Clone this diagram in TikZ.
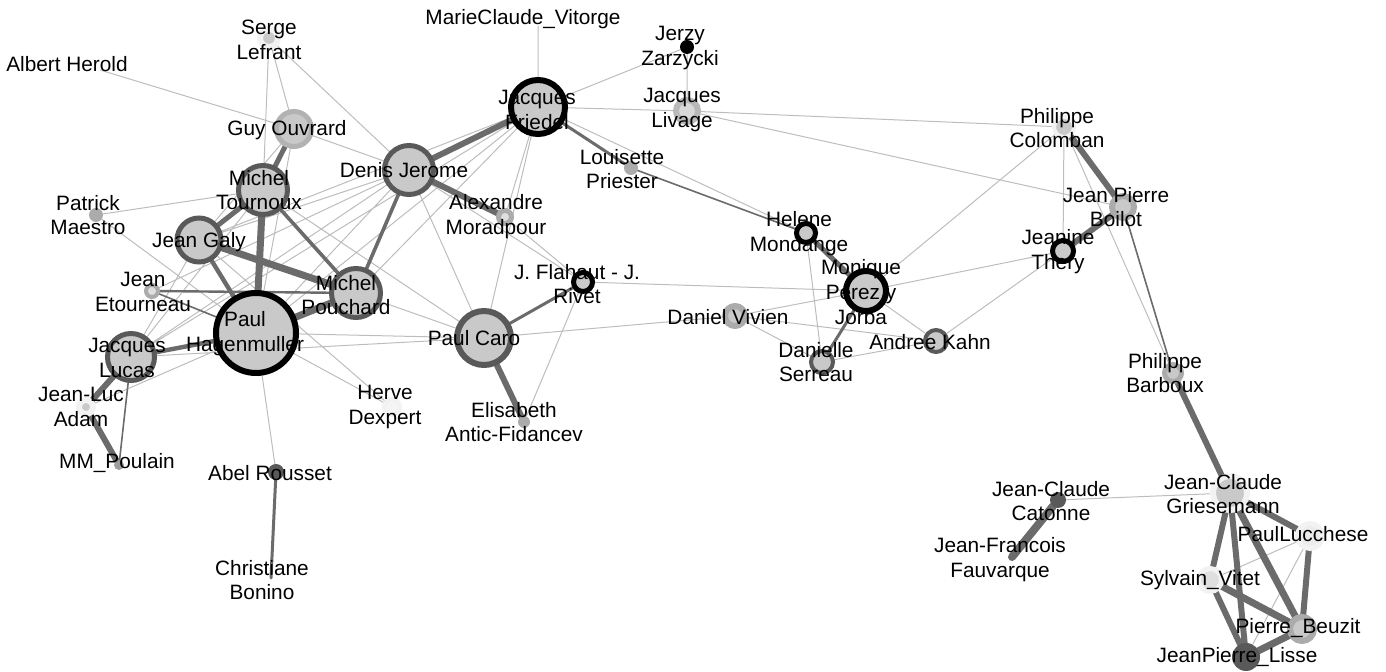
\documentclass[tikz,border=0pt]{standalone}
\usepackage{fontspec}
\setmainfont{Liberation Sans}
\usetikzlibrary{backgrounds}

\definecolor{fillgray}{gray}{0.79}
\definecolor{ringdark}{gray}{0.35}
\definecolor{midgray}{gray}{0.67}
\definecolor{palegray}{gray}{0.95}
\definecolor{edgedark}{gray}{0.42}
\definecolor{edgelight}{gray}{0.74}

\tikzset{
  vtx/.style={circle, inner sep=0pt, outer sep=0pt},
  hub/.style={vtx, draw=black, fill=fillgray, line width=3pt},
  dring/.style={vtx, draw=ringdark, fill=fillgray, line width=2.5pt},
  mring/.style={vtx, draw=midgray, fill=fillgray, line width=2.5pt},
  pring/.style={vtx, draw=palegray, fill=fillgray, line width=2.5pt},
  blob/.style={vtx, fill=#1},
  ghost/.style={vtx, minimum size=0pt},
  lbl/.style={font=\fontsize{10.4}{12.4}\selectfont, align=center, inner sep=0pt},
  lite/.style={draw=edgelight, line width=0.5pt},
  wt/.style={draw=edgedark, line width=#1, line cap=round},
}

\begin{document}
\begin{tikzpicture}[x=0.5pt, y=-0.5pt]
    \useasboundingbox (0,0) rectangle (1386,672);

    % Left cluster
    \node[hub, minimum size=40pt] (ph) at (256,333) {};
    \node[dring, minimum size=24.5pt] (mp) at (356,293) {};
    \node[dring, minimum size=24.5pt] (mt) at (263,190) {};
    \node[dring, minimum size=22pt] (jg) at (199,240) {};
    \node[dring, minimum size=24.5pt] (dj) at (409,170) {};
    \node[dring, minimum size=23.5pt] (jl) at (131,357) {};
    \node[mring, draw=gray!60, minimum size=17.5pt] (go) at (294,129) {};
    \node[pring, line width=3pt, minimum size=9pt] (sl) at (269,38) {};
    \node[ghost] (ah) at (100,70) {};
    \node[blob=midgray, minimum size=7pt] (pm) at (96,215) {};
    \node[mring, line width=2pt, fill=gray!25, minimum size=6pt] (je) at (152,291) {};
    \node[pring, line width=3pt, minimum size=7pt] (la) at (86,407) {};
    \node[blob=gray!75, minimum size=5pt] (mm) at (119,465) {};
    \node[blob=ringdark, minimum size=8pt] (ar) at (276,472) {};
    \node[ghost] (cb) at (271,578) {};
    \node[pring, line width=2pt, fill=gray!8, minimum size=8pt] (hd) at (392,407) {};

    % Middle
    \node[hub, minimum size=27pt] (jf) at (538,107) {};
    \node[ghost] (mv) at (538,26) {};
    \node[blob=black, minimum size=7pt] (jz) at (687,47) {};
    \node[mring, draw=gray!55, fill=gray!30, line width=3pt, minimum size=11pt] (jv) at (687,111) {};
    \node[blob=midgray, minimum size=7pt] (lp) at (631,168) {};
    \node[mring, fill=gray!25, minimum size=6.5pt] (am) at (505,217) {};
    \node[dring, line width=3pt, minimum size=27pt] (pc) at (484,338) {};
    \node[hub, line width=2.5pt, minimum size=9.5pt] (fr) at (583,282) {};
    \node[blob=midgray, minimum size=6pt] (ea) at (524,422) {};
    \node[mring, line width=3pt, minimum size=10pt] (dv) at (735,316) {};
    \node[hub, line width=2.5pt, minimum size=9.5pt] (hm) at (806,233) {};
    \node[hub, minimum size=20pt] (mj) at (866,291) {};
    \node[dring, line width=2pt, minimum size=11pt] (ds) at (822,362) {};
    \node[dring, line width=2pt, minimum size=11pt] (ak) at (936,341) {};

    % Right
    \node[pring, line width=2pt, minimum size=10pt] (pco) at (1064,127) {};
    \node[mring, line width=3pt, minimum size=11pt] (jb) at (1123,207) {};
    \node[hub, line width=2.5pt, minimum size=10.5pt] (jt) at (1063,251) {};
    \node[mring, minimum size=8.5pt] (pb) at (1173,373) {};
    \node[pring, line width=3pt, minimum size=17pt] (jcg) at (1230,493) {};
    \node[blob=ringdark, minimum size=8pt] (jcc) at (1058,500) {};
    \node[ghost] (jff) at (1012,557) {};
    \node[pring, fill=gray!15, minimum size=12.5pt] (pl) at (1310,536) {};
    \node[pring, fill=gray!25, minimum size=11.5pt] (sv) at (1210,580) {};
    \node[mring, line width=3pt, minimum size=12pt] (pbz) at (1302,629) {};
    \node[blob=ringdark, minimum size=14pt] (jpl) at (1246,657) {};

    \begin{scope}[on background layer]
        % Light edges
        \draw[lite] (sl) -- (mt) (sl) -- (go) (sl) -- (dj) (ah) -- (go)
            (go) -- (dj) (go) -- (jg) (go) -- (ph) (pm) -- (mt) (pm) -- (ph)
            (jl) -- (mt) (jl) -- (jg) (jl) -- (dj) (jl) -- (pc) (la) -- (ph)
            (ph) -- (pc) (ph) -- (hd) (ph) -- (ar) (ph) -- (dj) (ph) -- (jf)
            (mp) -- (pc) (mt) -- (pc) (dj) -- (pc) (dj) -- (jg) (dj) -- (je)
            (dj) -- (fr) (jg) -- (hd) (jf) -- (mp) (jf) -- (jg) (jf) -- (jl)
            (jf) -- (am) (jf) -- (pc) (jf) -- (mv) (jf) -- (jz) (jf) -- (jv)
            (jf) -- (hm) (jz) -- (jv) (jv) -- (pco) (jv) -- (jb);
        \draw[lite] (am) -- (fr) (fr) -- (mj) (fr) -- (ea) (pc) -- (dv)
            (dv) -- (mj) (dv) -- (ds) (dv) -- (ak) (hm) -- (ds) (mj) -- (ak)
            (mj) -- (pco) (mj) -- (jt) (ds) -- (ak) (ak) -- (jt) (pco) -- (jt)
            (pco) -- (pb) (jcg) -- (jcc) (pl) -- (sv) (pl) -- (jpl);

        % Weighted edges
        \draw[wt=0.8pt] (je) -- (ph) (jl) -- (mm) (lp) -- (hm) (jb) -- (pb);
        \draw[wt=1.2pt] (je) -- (mp);
        \draw[wt=1.5pt] (pc) -- (fr) (ar) -- (cb) (mj) -- (ds) (jf) -- (lp);
        \draw[wt=1.8pt] (mt) -- (mp) (dj) -- (mp);
        \draw[wt=2.2pt] (ph) -- (jg) (ph) -- (jl);
        \draw[wt=2.5pt] (jg) -- (mt) (mt) -- (go) (hm) -- (mj);
        \draw[wt=3pt] (dj) -- (jf) (dj) -- (am) (jl) -- (la) (la) -- (mm)
            (pc) -- (ea) (pco) -- (jb) (jb) -- (jt) (pb) -- (jcg)
            (jcg) -- (pl) (jcg) -- (sv) (jcg) -- (jpl) (sv) -- (jpl)
            (pl) -- (pbz);
        \draw[wt=3.5pt] (ph) -- (mt) (ph) -- (mp) (jg) -- (mp) (jcg) -- (pbz)
            (sv) -- (pbz) (pbz) -- (jpl);
        \draw[wt=4pt] (jcc) -- (jff);
    \end{scope}

    % Labels
    \node[lbl] (ah-t) at (67,64) {Albert Herold};
    \node[lbl] (sl-t) at (269,40) {Serge\\Lefrant};
    \node[lbl] (go-t) at (287,130) {Guy Ouvrard};
    \node[lbl] (mt-t) at (259,190) {Michel\\Tournoux};
    \node[lbl] (pm-t) at (88,215) {Patrick\\Maestro};
    \node[lbl] (jg-t) at (199,242) {Jean Galy};
    \node[lbl] (je-t) at (143,292) {Jean\\Etourneau};
    \node[lbl] (mp-t) at (346,295) {Michel\\Pouchard};
    \node[lbl] (ph-t) at (245,334) {Paul\\Hagenmuller};
    \node[lbl] (jl-t) at (127,358) {Jacques\\Lucas};
    \node[lbl] (la-t) at (81,407) {Jean-Luc\\Adam};
    \node[lbl] (mm-t) at (117,463) {MM\_Poulain};
    \node[lbl] (hd-t) at (385,407) {Herve\\Dexpert};
    \node[lbl] (ar-t) at (270,473) {Abel Rousset};
    \node[lbl] (cb-t) at (262,580) {Christiane\\Bonino};
    \node[lbl] (dj-t) at (404,170) {Denis Jerome};
    \node[lbl] (am-t) at (496,217) {Alexandre\\Moradpour};
    \node[lbl] (jf-t) at (537,110) {Jacques\\Friedel};
    \node[lbl] (mv-t) at (523,19) {MarieClaude\_Vitorge};
    \node[lbl] (jz-t) at (680,48) {Jerzy\\Zarzycki};
    \node[lbl] (jv-t) at (682,110) {Jacques\\Livage};
    \node[lbl] (lp-t) at (622,169) {Louisette\\Priester};
    \node[lbl] (pc-t) at (474,338) {Paul Caro};
    \node[lbl] (fr-t) at (577,284) {J. Flahaut - J.\\Rivet};
    \node[lbl] (ea-t) at (514,422) {Elisabeth\\Antic-Fidancev};
    \node[lbl] (dv-t) at (728,317) {Daniel Vivien};
    \node[lbl] (hm-t) at (799,234) {Helene\\Mondange};
    \node[lbl] (mj-t) at (861,292) {Monique\\Perez y\\Jorba};
    \node[lbl] (ds-t) at (816,362) {Danielle\\Serreau};
    \node[lbl] (ak-t) at (930,342) {Andree Kahn};
    \node[lbl] (pco-t) at (1057,128) {Philippe\\Colomban};
    \node[lbl] (jb-t) at (1116,207) {Jean Pierre\\Boilot};
    \node[lbl] (jt-t) at (1058,252) {Jeanine\\Thery};
    \node[lbl] (pb-t) at (1165,373) {Philippe\\Barboux};
    \node[lbl] (jcg-t) at (1223,494) {Jean-Claude\\Griesemann};
    \node[lbl] (jcc-t) at (1051,501) {Jean-Claude\\Catonne};
    \node[lbl] (jff-t) at (1000,560) {Jean-Francois\\Fauvarque};
    \node[lbl] (pl-t) at (1303,534) {PaulLucchese};
    \node[lbl] (sv-t) at (1200,580) {Sylvain\_Vitet};
    \node[lbl] (pbz-t) at (1298,628) {Pierre\_Beuzit};
    \node[lbl] (jpl-t) at (1237,657) {JeanPierre\_Lisse};
\end{tikzpicture}
\end{document}
